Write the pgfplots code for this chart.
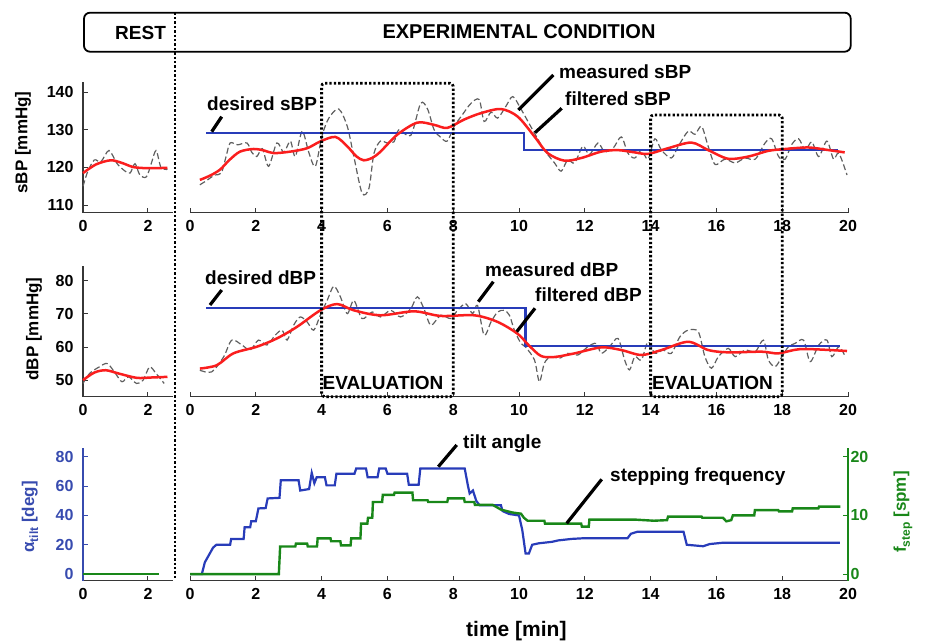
\documentclass[border=0pt]{standalone}
\usepackage{fontspec}
\setmainfont{Liberation Sans}
\usepackage{pgfplots}
\pgfplotsset{compat=1.18}

\definecolor{filtred}{RGB}{250,30,30}
\definecolor{setblue}{RGB}{40,60,185}
\definecolor{stepgreen}{RGB}{25,135,25}
\definecolor{axisgray}{RGB}{55,55,55}
\definecolor{measgray}{RGB}{95,95,95}
\definecolor{lblblue}{RGB}{55,75,175}

\pgfplotsset{
  panel/.style={
    scale only axis, clip=false,
    axis x line*=bottom, axis y line*=left,
    tick align=inside, major tick length=5pt,
    axis line style={axisgray, line width=1.3pt},
    every tick/.style={axisgray, line width=1pt},
    tick label style={font=\fontsize{16}{16}\selectfont\bfseries},
    /pgf/number format/assume math mode=true,
    xticklabel style={yshift=-4pt},
    yticklabel style={xshift=-6pt},
  },
  restx/.style={xmin=0, xmax=2.77, width=90pt, xtick={0,2}},
  expx/.style={xmin=0, xmax=20, width=658pt, xtick={0,2,...,20}},
  filt/.style={filtred, line width=2.5pt, smooth},
  meas/.style={measgray, line width=1.2pt, dash pattern=on 6pt off 3pt, smooth},
  setp/.style={setblue, line width=2.2pt, sharp plot},
  tilt/.style={setblue, line width=2.2pt, sharp plot},
  stepf/.style={stepgreen, line width=2.4pt, sharp plot},
}
\tikzset{
  ann/.style={font=\fontsize{19}{19}\selectfont\bfseries, inner sep=0pt, anchor=base west},
  lead/.style={black, line width=3.2pt},
  evald/.style={black, line width=2.8pt, dash pattern=on 2.3pt off 2.1pt, rounded corners=3pt},
}

\begin{document}
\begin{tikzpicture}
\useasboundingbox (0,0) rectangle (925pt,642pt);

% ---- row 1: sBP
\begin{axis}[panel, restx, at={(83pt,429.3pt)}, anchor=south west,
  height=131pt, ymin=108, ymax=142.75, ytick={110,120,130,140}]
\addplot[meas] coordinates {(0,115)(0.15,119)(0.35,122)(0.55,121.5)(0.8,124.5)(1.05,121)(1.3,119)(1.45,118.5)(1.6,121)(1.75,118)(1.95,117.5)(2.1,121)(2.25,124.5)(2.4,120)(2.6,119.5)};
\addplot[filt] coordinates {(0,118.5)(0.4,120.8)(0.85,121.9)(1.2,121.2)(1.55,120.1)(2,119.8)(2.6,119.9)};
\end{axis}

\begin{axis}[panel, expx, hide y axis, at={(190pt,429.3pt)}, anchor=south west,
  height=131pt, ymin=108, ymax=142.75]
\addplot[meas] coordinates {(0.3,115.4)(0.5,116.5)(0.75,118)(0.95,118.5)(1.1,123)(1.22,126.5)(1.45,126)(1.73,126.5)(1.88,124)(2.03,122.9)(2.2,125)(2.39,120.3)(2.64,126.5)(2.85,124)(3.05,127)(3.2,122.9)(3.41,129.6)(3.61,124)(3.81,120.3)(4.01,128.3)(4.22,133.1)(4.52,135.5)(4.78,130.9)(4.98,122.9)(5.23,113.2)(5.44,114.5)(5.59,123.7)(5.79,127)(5.99,126.5)(6.2,126.8)(6.35,130)(6.71,128.5)(7.01,137)(7.22,135.5)(7.42,130)(7.62,128)(7.82,127)(8.03,130.9)(8.28,134)(8.54,137)(8.79,138)(8.94,132.2)(9.15,134.7)(9.35,133.1)(9.6,136.2)(9.81,138.8)(10.06,135.5)(10.47,129.1)(10.77,124.6)(11.08,121.2)(11.28,119)(11.48,122)(11.69,121.2)(11.94,125.6)(12.14,123.4)(12.4,126.5)(12.6,124.2)(12.86,125.1)(13.11,128.1)(13.31,123.8)(13.52,122.5)(13.72,124.6)(13.92,122.2)(14.13,127.6)(14.33,124.6)(14.63,122.5)(14.84,125.6)(15.14,129.6)(15.35,128.8)(15.55,130.9)(15.75,125.6)(15.96,120.8)(16.26,122.2)(16.57,121.2)(16.87,122.5)(17.18,122.2)(17.48,126.5)(17.68,127.6)(17.89,122.9)(18.09,122.2)(18.29,126.1)(18.5,127.6)(18.7,124.6)(18.9,126.8)(19.11,122.9)(19.36,127)(19.56,122.2)(19.72,123.8)(19.97,118)};
\addplot[setp] coordinates {(0.5,129.1)(10.16,129.1)(10.16,124.7)(19.7,124.7)};
\addplot[filt] coordinates {(0.3,116.7)(0.6,117.8)(0.91,119.4)(1.2,122)(1.52,124.2)(1.93,124.9)(2.25,124.5)(2.54,123.8)(3.05,124.2)(3.56,125.1)(3.96,126.9)(4.42,128.1)(4.78,125.6)(5.05,123)(5.28,121.9)(5.55,122.6)(5.79,124.2)(6.3,128.7)(6.91,131.9)(7.42,131.3)(7.82,130.5)(8.33,132.7)(8.84,134.4)(9.45,135.5)(9.96,133.5)(10.47,128.2)(10.87,123.8)(11.38,121.8)(11.89,122.5)(12.5,124.2)(13,124.6)(13.52,124)(13.93,123.6)(14.53,125.1)(15.24,126.6)(15.75,124.6)(16.36,122.3)(16.97,122.9)(17.58,124.4)(18.09,124.9)(18.8,125.3)(19.41,124.6)(19.9,124)};
\end{axis}

% ---- row 2: dBP
\begin{axis}[panel, restx, at={(83pt,245.3pt)}, anchor=south west,
  height=130.7pt, ymin=45, ymax=84.5, ytick={50,60,70,80}]
\addplot[meas] coordinates {(0,49)(0.2,52)(0.5,54)(0.75,55)(1.0,52)(1.2,49.5)(1.4,51)(1.65,49)(1.85,50)(2.05,54)(2.25,52)(2.5,49)};
\addplot[filt] coordinates {(0,50)(0.35,52.3)(0.7,53)(1.1,52)(1.65,50.7)(2.1,50.8)(2.6,51)};
\end{axis}

\begin{axis}[panel, expx, hide y axis, at={(190pt,245.3pt)}, anchor=south west,
  height=130.7pt, ymin=45, ymax=84.5]
\addplot[meas] coordinates {(0.3,53)(0.66,52.5)(1.02,57)(1.27,62.1)(1.58,60.6)(1.83,59.1)(2.08,62.1)(2.34,60.6)(2.59,63.6)(2.8,65.1)(2.95,62.1)(3.15,66.6)(3.35,69.1)(3.56,67.6)(3.76,65.1)(3.96,69.6)(4.17,74.1)(4.37,78.4)(4.57,75.2)(4.78,70.1)(4.98,74.1)(5.23,68.6)(5.54,70.6)(5.79,69.1)(6.1,71.1)(6.4,69.1)(6.71,71.6)(6.91,75.2)(7.11,71.6)(7.32,66.6)(7.62,69.6)(7.93,68.6)(8.13,71.1)(8.38,73.1)(8.59,70.1)(8.74,72.6)(8.94,63.6)(9.15,67.6)(9.35,70.6)(9.55,71.1)(9.71,69.6)(9.86,65.1)(10.06,61.1)(10.2,60)(10.47,56.1)(10.62,49.5)(10.77,55.1)(10.97,57.1)(11.23,56.6)(11.48,58.1)(11.79,57.6)(12.09,60.1)(12.35,61.1)(12.5,58.1)(12.75,60.1)(13.01,62.6)(13.21,56.1)(13.36,53.1)(13.52,57.1)(13.72,56.1)(13.92,61.6)(14.13,58.1)(14.38,59.1)(14.63,58.1)(14.89,63.1)(15.14,65.1)(15.45,64.6)(15.65,57.1)(15.85,53.6)(16.06,57.1)(16.36,59.6)(16.57,57.1)(16.87,59.1)(17.18,58.6)(17.43,62.1)(17.58,56.1)(17.79,54.1)(17.99,57.1)(18.19,60.1)(18.39,61.1)(18.65,62.1)(18.85,55.6)(19.11,60.6)(19.36,62.1)(19.51,57.1)(19.72,60.1)(19.92,57.1)};
\addplot[setp] coordinates {(0.5,71.7)(10.2,71.7)(10.2,60.4)(19.75,60.4)};
\addplot[filt] coordinates {(0.3,53.5)(0.81,54.5)(1.32,58.1)(2.03,60.1)(2.64,62.6)(3.25,66.1)(3.96,71.1)(4.47,73)(4.98,71.1)(5.79,69.6)(6.81,70.8)(7.62,69.4)(8.64,69.6)(9.35,67.6)(9.96,64)(10.3,60.5)(10.67,57.3)(11.08,57)(11.69,58.1)(12.5,59.9)(13.11,59.1)(13.72,57.6)(14.33,59.1)(15.14,61.6)(15.75,59.1)(16.36,58.4)(17.38,58.6)(17.89,58.1)(18.6,59.4)(19.97,58.8)};
\end{axis}

% ---- row 3: tilt angle and stepping frequency
\begin{axis}[panel, restx, at={(83pt,61.3pt)}, anchor=south west,
  height=132.7pt, ymin=-4.5, ymax=86, ytick={0,20,40,60,80},
  y axis line style={lblblue}, ytick style={lblblue}, yticklabel style={lblblue}]
\addplot[tilt] coordinates {(0,0)(2.35,0)};
\addplot[stepf] coordinates {(0,0)(2.35,0)};
\end{axis}

\begin{axis}[panel, expx, hide y axis, at={(190pt,61.3pt)}, anchor=south west,
  height=132.7pt, ymin=-4.5, ymax=86]
\addplot[tilt] coordinates {(0,0)(0.36,0)(0.45,8)(0.55,12)(0.7,18)(0.8,20)(1.22,20)(1.25,24)(1.63,24)(1.66,32)(1.83,32)(1.86,36)(2.0,36)(2.08,44.8)(2.3,45)(2.36,51.6)(2.72,52)(2.76,64)(3.3,64)(3.35,57)(3.62,58)(3.7,69)(3.78,62)(3.85,66)(4.1,66)(4.15,60.5)(4.4,60.5)(4.45,68.5)(5.0,68.5)(5.05,72)(5.35,72)(5.4,66)(5.7,66)(5.75,72)(5.95,72)(6.0,68.5)(6.6,68.5)(6.65,61)(6.95,61)(7.0,72)(8.35,72)(8.45,60)(8.5,55)(8.6,57)(8.7,50)(8.8,47)(9.45,47)(9.5,43)(9.7,41)(10.0,40)(10.1,30)(10.2,14)(10.3,14)(10.4,20)(10.6,21)(11.0,22)(11.2,23)(11.6,24)(12.0,24.5)(13.3,24.5)(13.4,27.5)(13.6,28.9)(15.0,28.9)(15.1,20)(15.6,19)(15.8,20.5)(16.2,21.4)(19.75,21.4)};
\end{axis}

\begin{axis}[panel, expx, hide x axis, axis y line*=right, at={(190pt,61.3pt)}, anchor=south west,
  height=132.7pt, ymin=-1.125, ymax=21.5, ytick={0,10,20},
  y axis line style={stepgreen}, ytick style={stepgreen},
  yticklabel style={stepgreen, xshift=5pt}]
\addplot[stepf] coordinates {(0,0)(2.7,0)(2.74,4.7)(3.2,4.7)(3.22,5.2)(3.56,5.2)(3.58,4.7)(3.86,4.7)(3.88,6.1)(4.27,6.1)(4.29,5.6)(4.57,5.6)(4.59,4.9)(4.88,4.9)(4.9,6.1)(5.18,6.1)(5.2,8.6)(5.39,8.6)(5.41,9.6)(5.54,9.6)(5.56,12.3)(5.84,12.3)(5.86,13.5)(6.2,13.5)(6.22,13.9)(6.76,13.9)(6.78,12.6)(7.22,12.6)(7.24,12.3)(7.82,12.3)(7.84,12.9)(8.33,12.9)(8.35,12.3)(8.64,12.3)(8.66,11.8)(9.2,11.8)(9.45,11)(9.8,10.5)(10.06,10.3)(10.15,9.6)(10.26,9.1)(10.77,9.1)(10.79,8.6)(11.89,8.6)(11.91,8.1)(12.12,8.1)(12.14,9.3)(13.5,9.3)(14.1,9.1)(14.5,9.2)(14.53,9.8)(15.55,9.8)(15.57,9.6)(16.2,9.6)(16.3,9.0)(16.45,9.2)(16.5,10.0)(17.15,10.0)(17.17,10.9)(17.88,10.9)(17.9,10.7)(18.3,10.7)(18.32,11.2)(19.1,11.2)(19.12,11.5)(19.77,11.5)};
\end{axis}

% ---- header box and rest separator
\draw[black, line width=1.8pt, rounded corners=6pt] (84pt,590.3pt) rectangle (850.7pt,629.3pt);
\node[ann] at (115pt,602.7pt) {REST};
\node[font=\fontsize{20}{20}\selectfont\bfseries, inner sep=0pt, anchor=base] at (519pt,603pt) {EXPERIMENTAL CONDITION};
\draw[black, line width=2.8pt, dash pattern=on 2.3pt off 2.1pt] (175pt,629.3pt) -- (175pt,62pt);

% ---- evaluation windows
\draw[evald] (321.6pt,245.3pt) rectangle (453.2pt,558.7pt);
\draw[evald] (650.6pt,245.3pt) rectangle (782.2pt,527pt);
\node[ann] at (322.5pt,252pt) {EVALUATION};
\node[ann] at (652pt,252pt) {EVALUATION};

% ---- annotations
\node[ann] at (207pt,531.3pt) {desired sBP};
\draw[lead] (211.7pt,510.3pt) -- (221.7pt,525.3pt);
\node[ann] at (559pt,563pt) {measured sBP};
\draw[lead] (518.3pt,532pt) -- (553.3pt,567pt);
\node[ann] at (565pt,536.3pt) {filtered sBP};
\draw[lead] (535pt,509.3pt) -- (561.7pt,533.7pt);
\node[ann] at (205pt,357pt) {desired dBP};
\draw[lead] (210pt,337pt) -- (221.7pt,352pt);
\node[ann] at (485pt,365.3pt) {measured dBP};
\draw[lead] (478.3pt,340.3pt) -- (493.3pt,360.3pt);
\node[ann] at (535pt,340.3pt) {filtered dBP};
\draw[lead] (516.7pt,310.3pt) -- (535pt,333.7pt);
\node[ann] at (463pt,193.7pt) {tilt angle};
\draw[lead] (438.3pt,175.3pt) -- (456.7pt,197pt);
\node[ann] at (610pt,160.3pt) {stepping frequency};
\draw[lead] (566.7pt,118.7pt) -- (601.7pt,162.7pt);

% ---- axis titles
\node[font=\fontsize{17}{17}\selectfont\bfseries, rotate=90, inner sep=0pt] at (23pt,499.5pt) {sBP [mmHg]};
\node[font=\fontsize{17}{17}\selectfont\bfseries, rotate=90, inner sep=0pt] at (34pt,313pt) {dBP [mmHg]};
\node[font=\fontsize{17}{17}\selectfont\bfseries, rotate=90, inner sep=0pt, text=lblblue] at (30pt,125pt)
  {α\raisebox{-0.45ex}{\fontsize{12}{12}\selectfont tilt} [deg]};
\node[font=\fontsize{17}{17}\selectfont\bfseries, rotate=90, inner sep=0pt, text=stepgreen] at (903pt,130pt)
  {f\raisebox{-0.45ex}{\fontsize{12}{12}\selectfont step} [spm]};
\node[font=\fontsize{21}{21}\selectfont\bfseries, inner sep=0pt, anchor=base west] at (466pt,6pt) {time [min]};
\end{tikzpicture}
\end{document}
